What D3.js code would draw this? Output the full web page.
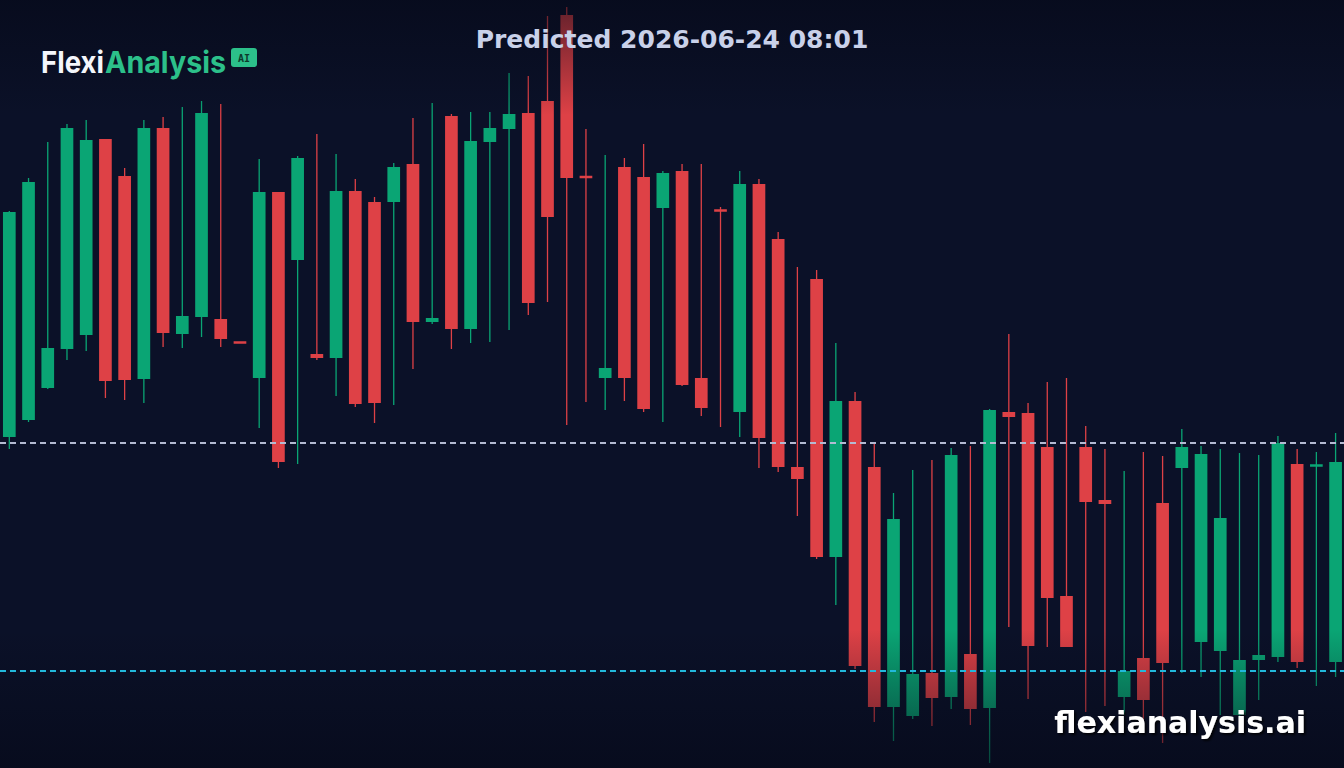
<!DOCTYPE html>
<html>
<head>
<meta charset="utf-8">
<script src="https://cdn.jsdelivr.net/npm/d3@7"></script>
<style>
  html, body { margin: 0; padding: 0; background: #0b1128; }
  svg { display: block; }
</style>
</head>
<body>
<div id="chart"></div>
<script>
    const width = 1344, height = 768;

    // OHLC (price units, higher = up)
    const opens  = [331,348,380,419,433,629,592,389,640,434,451,449,426,390,576,508,414,410,577,566,
                    566,604,446,652,439,626,639,655,667,753,592,390,601,591,560,597,390,558,356,584,
                    529,301,489,211,367,301,61,52,95,71,114,60,356,355,321,172,321,268,71,110,
                    265,300,126,117,53,108,111,304,302,106];
    const highs  = [557,590,626,644,648,629,600,648,651,661,667,664,426,609,576,612,634,614,589,571,
                    605,650,665,654,656,656,695,692,752,761,639,613,610,624,597,604,604,561,597,589,
                    536,501,498,425,376,325,275,298,308,320,322,359,434,365,386,390,342,319,297,316,
                    312,339,322,319,315,313,332,319,316,335];
    const lows   = [319,346,379,408,417,370,368,365,421,420,431,421,425,340,300,304,408,372,361,345,
                    363,399,444,419,425,426,438,453,466,343,366,358,367,356,346,382,352,341,331,300,
                    296,252,209,163,99,46,27,49,42,59,43,5,141,69,121,121,56,62,53,40,
                    25,95,91,53,48,68,106,100,82,91];
    const closes = [556,586,420,640,628,387,388,640,435,452,655,429,425,576,306,610,410,577,364,365,
                    601,446,450,439,627,640,654,465,551,590,590,400,390,359,595,383,360,557,584,330,
                    301,289,211,367,102,61,249,94,70,313,59,358,351,122,170,121,266,264,97,68,
                    105,321,314,250,108,113,325,106,303,306];
    const levels = [325, 97];
    const levelColors = ["#b4bad2", "#22b8dc"];

    const titleText = "Predicted 2026-06-24 08:01";
    const watermark = "flexianalysis.ai";

    const candles = opens.map((o, i) => ({ i, o, h: highs[i], l: lows[i], c: closes[i] }));

    const green = "#0aa574", red = "#de4146";

    const svg = d3.select("#chart").append("svg")
        .attr("width", width)
        .attr("height", height);

    const defs = svg.append("defs");
    const fade = defs.append("linearGradient")
        .attr("id", "fade").attr("x1", 0).attr("y1", 0).attr("x2", 0).attr("y2", 1);
    fade.append("stop").attr("offset", 0).attr("stop-color", "#050817").attr("stop-opacity", 0.6);
    fade.append("stop").attr("offset", 0.15).attr("stop-color", "#050817").attr("stop-opacity", 0);
    fade.append("stop").attr("offset", 0.82).attr("stop-color", "#050817").attr("stop-opacity", 0);
    fade.append("stop").attr("offset", 1).attr("stop-color", "#050817").attr("stop-opacity", 0.62);

    const shadow = defs.append("filter").attr("id", "shadow")
        .attr("x", "-10%").attr("y", "-30%").attr("width", "130%").attr("height", "160%");
    shadow.append("feDropShadow").attr("dx", 2).attr("dy", 2).attr("stdDeviation", 1.2)
        .attr("flood-color", "#000").attr("flood-opacity", 0.8);

    svg.append("rect").attr("width", width).attr("height", height).attr("fill", "#0b1128");

    const x = d3.scaleBand()
        .domain(candles.map(d => d.i))
        .range([-0.3, width + 1.2])
        .paddingInner(0.34)
        .paddingOuter(0.17);

    const y = d3.scaleLinear().domain([0, 768]).range([height, 0]);

    const g = svg.append("g");

    // wicks
    g.selectAll(".wick")
        .data(candles)
        .join("line")
        .attr("class", "wick")
        .attr("x1", d => x(d.i) + x.bandwidth() / 2)
        .attr("x2", d => x(d.i) + x.bandwidth() / 2)
        .attr("y1", d => y(d.h))
        .attr("y2", d => y(d.l))
        .attr("stroke", d => d.c >= d.o ? green : red)
        .attr("stroke-width", 1.3);

    // bodies
    g.selectAll(".body")
        .data(candles)
        .join("rect")
        .attr("class", "body")
        .attr("x", d => x(d.i))
        .attr("width", x.bandwidth())
        .attr("y", d => {
            const top = y(Math.max(d.o, d.c)), hgt = Math.abs(y(d.o) - y(d.c));
            return hgt < 2.5 ? (top + hgt / 2 - 1.25) : top;
        })
        .attr("height", d => Math.max(2.5, Math.abs(y(d.o) - y(d.c))))
        .attr("fill", d => d.c >= d.o ? green : red);

    // top / bottom darkening
    svg.append("rect").attr("width", width).attr("height", height).attr("fill", "url(#fade)");

    // level lines, over the candles
    svg.selectAll(".level")
        .data(levels)
        .join("line")
        .attr("class", "level")
        .attr("x1", 0).attr("x2", width)
        .attr("y1", d => y(d)).attr("y2", d => y(d))
        .attr("stroke", (d, i) => levelColors[i])
        .attr("stroke-width", 1.8)
        .attr("stroke-dasharray", "6 4");

    // title
    svg.append("text")
        .attr("x", width / 2).attr("y", 48)
        .attr("text-anchor", "middle")
        .attr("font-family", "DejaVu Sans")
        .attr("font-weight", "bold")
        .attr("font-size", 25)
        .attr("fill", "#c9d1e9")
        .text(titleText);

    // logo
    const logo = svg.append("g").attr("font-family", "Inter").attr("font-weight", 700).attr("font-size", 30);
    logo.append("text").attr("x", 41).attr("y", 73)
        .attr("textLength", 63).attr("lengthAdjust", "spacingAndGlyphs")
        .attr("fill", "#f4f6fb").text("Flexi");
    logo.append("text").attr("x", 105).attr("y", 73)
        .attr("textLength", 121).attr("lengthAdjust", "spacingAndGlyphs")
        .attr("fill", "#2cc08a").text("Analysis");
    logo.append("rect").attr("x", 231).attr("y", 48).attr("width", 26).attr("height", 19)
        .attr("rx", 3).attr("fill", "#2cc08a");
    logo.append("text").attr("x", 244).attr("y", 61.5)
        .attr("text-anchor", "middle")
        .attr("font-family", "DejaVu Sans Mono").attr("font-weight", "bold").attr("font-size", 10)
        .attr("fill", "#0d3a2c").text("AI");

    // watermark
    svg.append("text")
        .attr("x", 1306).attr("y", 733)
        .attr("text-anchor", "end")
        .attr("font-family", "DejaVu Sans")
        .attr("font-weight", "bold")
        .attr("font-size", 30)
        .attr("fill", "#ffffff")
        .attr("filter", "url(#shadow)")
        .text(watermark);
</script>
</body>
</html>
